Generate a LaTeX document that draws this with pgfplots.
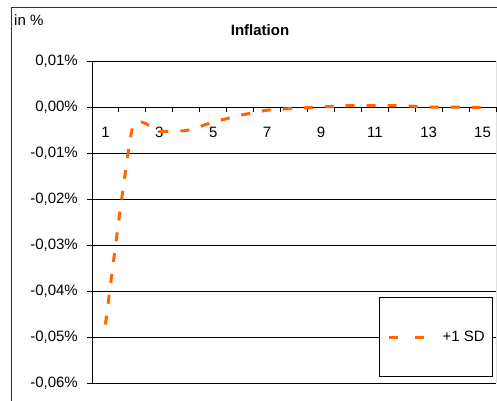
\documentclass[border=0pt]{standalone}
\usepackage{pgfplots}
\pgfplotsset{compat=1.18}
\usepackage{fontspec}
\setmainfont{Liberation Sans}
\definecolor{excelorange}{RGB}{255,102,0}
\begin{document}
\fontsize{15pt}{18pt}\selectfont
\begin{tikzpicture}[x=1pt,y=1pt]
\useasboundingbox (0,0) rectangle (497,-400);
\begin{scope}
\clip (0,0) rectangle (497,-400);
\draw[line width=1pt, black!80] (11.5,-7) rectangle (520,-420);
\end{scope}
\node[anchor=west, inner sep=0pt] at (14,-20) {in \%};
\node[font=\bfseries, inner sep=0pt] at (260,-30.5) {Inflation};
\begin{axis}[
  at={(92pt,-383pt)}, anchor=south west,
  scale only axis, width=404pt, height=322pt,
  xmin=0.5, xmax=15.5, ymin=-0.06, ymax=0.01,
  axis x line=middle, axis y line=left,
  axis line style={-, line width=1pt, black},
  hide obscured x ticks=false, hide obscured y ticks=false,
  scaled y ticks=false,
  tick align=outside, major tick length=5pt,
  tick style={black, line width=1pt},
  xtick={0.5,1.5,...,15.5},
  xticklabels={1,,3,,5,,7,,9,,11,,13,,15,,},
  xticklabel style={xshift=13.47pt, yshift=-10pt},
  ytick={-0.06,-0.05,-0.04,-0.03,-0.02,-0.01,0,0.01},
  yticklabels={{-0,06\%},{-0,05\%},{-0,04\%},{-0,03\%},{-0,02\%},{-0,01\%},{0,00\%},{0,01\%}},
  yticklabel style={xshift=-4pt},
  ymajorgrids, major grid style={black, line width=1pt},
  legend style={at={(0.993,0.019)}, anchor=south east, draw=black, line width=1pt, fill=white,
    inner xsep=8pt, inner ysep=33pt, nodes={inner sep=0pt},
    /tikz/every odd column/.append style={column sep=17pt}},
  legend image code/.code={\draw[#1, dash pattern=on 9pt off 17pt] (0pt,0pt) -- (35pt,0pt);},
]
\draw[black, line width=1pt] (rel axis cs:1,0) -- (rel axis cs:1,1);
\addplot[excelorange, line width=3pt, dash pattern=on 9pt off 12pt, smooth, tension=0.3] coordinates {
(1,-0.0473) (2,-0.0046) (3,-0.0053) (4,-0.0051) (5,-0.0033) (6,-0.0018) (7,-0.0007) (8,-0.0003)
(9,0.0000) (10,0.0003) (11,0.0003) (12,0.0003) (13,0.0000) (14,0.0000) (15,-0.0001)
};
\addlegendentry{+1 SD}
\end{axis}
\end{tikzpicture}
\end{document}
